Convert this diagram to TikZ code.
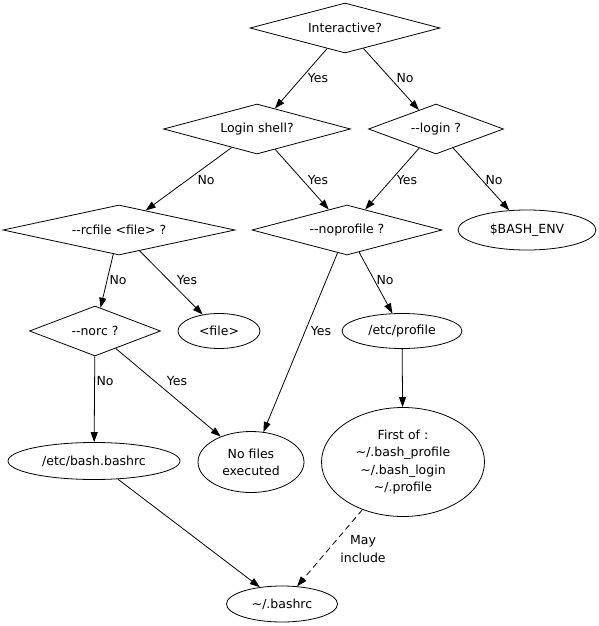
\documentclass[tikz,border=0pt]{standalone}
\usepackage{fontspec}
\setmainfont{DejaVu Sans}
\usetikzlibrary{shapes.geometric,arrows.meta}

\newcommand{\opt}[1]{-\kern0pt-#1}

\tikzset{
  every node/.style={font=\fontsize{12.5}{17.3}\selectfont,inner sep=0pt},
  query/.style={draw,diamond,shape aspect=4,minimum height=50pt},
  script/.style={draw,ellipse},
  arr/.style={-{Triangle[length=10pt,width=7pt]},line width=0.8pt},
  lbl/.style={align=center}
}

\begin{document}
\begin{tikzpicture}[x=1pt,y=-1pt,line width=0.8pt]
      \useasboundingbox (0,0) rectangle (598,626);

      \node [query,minimum width=190pt] (int) at (345,28) {Interactive?};
      \node [query,minimum width=187pt] (login) at (257,129) {Login shell?};
      \node [query,minimum width=135pt] (lopt) at (436,129) {\opt{login} ?};
      \node [query,minimum width=232pt] (rc) at (119,230) {\opt{rcfile} <file> ?};
      \node [query,minimum width=190pt] (noprof) at (347,230) {\opt{noprofile} ?};
      \node [script,minimum width=138pt,minimum height=40pt] (env) at (527,230) {\$BASH\_ENV};
      \node [query,minimum width=131pt] (norc) at (95,331) {\opt{norc} ?};
      \node [script,minimum width=82pt,minimum height=35pt] (file) at (219,331) {<file>};
      \node [script,minimum width=120pt,minimum height=35pt] (prof) at (402,331) {/etc/profile};
      \node [script,minimum width=172pt,minimum height=37pt] (sysrc) at (94,461) {/etc/bash.bashrc};
      \node [script,minimum width=106pt,minimum height=61pt,align=center] (none) at (251,462) {No files\\executed};
      \node [script,minimum width=163pt,minimum height=109pt,align=center] (first) at (403,462)
        {First of :\\\textasciitilde/.bash\_profile\\\textasciitilde/.bash\_login\\\textasciitilde/.profile};
      \node [script,minimum width=111pt,minimum height=36pt] (home) at (282,604) {\textasciitilde/.bashrc};

      \foreach \from/\to/\txt/\lx/\ly in {int/login/Yes/318/78,int/lopt/No/405/78,
          login/rc/No/206/180,login/noprof/Yes/318/180,lopt/noprof/Yes/407/180,lopt/env/No/494/180,
          rc/norc/No/118/280,rc/file/Yes/187/280,noprof/prof/No/385/280,noprof/none/Yes/321/331,
          norc/sysrc/No/105/381,norc/none/Yes/177/381}
        {
        \draw [arr] (\from) -- (\to);
        \node [lbl] (\from-\to) at (\lx,\ly) {\txt};
        }

      \draw [arr] (prof) -- (first);
      \draw [arr] (sysrc) -- (home);
      \draw [arr,dashed,dash pattern=on 6pt off 4pt] (first) -- (home);
      \node [lbl] (first-home) at (363,549) {May\\include};
    \end{tikzpicture}
\end{document}
